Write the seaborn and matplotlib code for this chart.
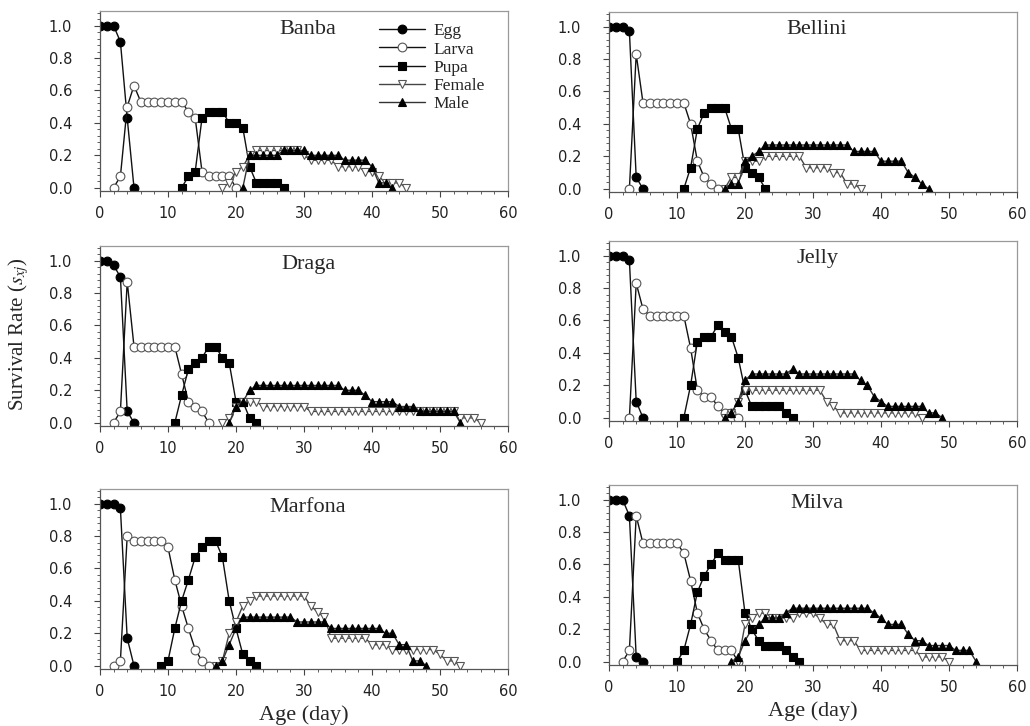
import matplotlib
matplotlib.use("Agg")
import matplotlib.pyplot as plt
from matplotlib.ticker import MultipleLocator, FormatStrFormatter
from matplotlib.lines import Line2D
import numpy as np
import seaborn as sns

# each series: (first day, survival values for consecutive days)
stages = ["Egg", "Larva", "Pupa", "Female", "Male"]
cultivars = ["Banba", "Bellini", "Draga", "Jelly", "Marfona", "Milva"]

banba_egg = (0, [1.0, 1.0, 1.0, 0.90, 0.43, 0.0])
banba_larva = (2, [0.0, 0.07, 0.50, 0.63, 0.53, 0.53, 0.53, 0.53, 0.53, 0.53, 0.53,
                   0.47, 0.43, 0.10, 0.07, 0.07, 0.07, 0.07, 0.0])
banba_pupa = (12, [0.0, 0.07, 0.10, 0.43, 0.47, 0.47, 0.47, 0.40, 0.40, 0.37, 0.13,
                   0.03, 0.03, 0.03, 0.03, 0.0])
banba_female = (18, [0.0, 0.03, 0.10, 0.13, 0.20, 0.23, 0.23, 0.23, 0.23, 0.23, 0.23, 0.23,
                     0.20, 0.17, 0.17, 0.17, 0.17, 0.13, 0.13, 0.13, 0.13, 0.10, 0.10,
                     0.07, 0.03, 0.03, 0.03, 0.0])
banba_male = (21, [0.0, 0.20, 0.20, 0.20, 0.20, 0.20, 0.23, 0.23, 0.23, 0.23, 0.20, 0.20,
                   0.20, 0.20, 0.20, 0.17, 0.17, 0.17, 0.17, 0.13, 0.03, 0.03, 0.0])

bellini_egg = (0, [1.0, 1.0, 1.0, 0.97, 0.07, 0.0])
bellini_larva = (3, [0.0, 0.83, 0.53, 0.53, 0.53, 0.53, 0.53, 0.53, 0.53, 0.40, 0.17,
                     0.07, 0.03, 0.0])
bellini_pupa = (11, [0.0, 0.13, 0.37, 0.47, 0.50, 0.50, 0.50, 0.37, 0.37, 0.13, 0.10, 0.07, 0.0])
bellini_female = (17, [0.0, 0.07, 0.07, 0.17, 0.17, 0.17, 0.20, 0.20, 0.20, 0.20, 0.20, 0.20,
                       0.13, 0.13, 0.13, 0.13, 0.10, 0.10, 0.03, 0.03, 0.0])
bellini_male = (17, [0.0, 0.03, 0.03, 0.17, 0.20, 0.23, 0.27, 0.27, 0.27, 0.27, 0.27, 0.27,
                     0.27, 0.27, 0.27, 0.27, 0.27, 0.27, 0.27, 0.23, 0.23, 0.23, 0.23,
                     0.17, 0.17, 0.17, 0.17, 0.10, 0.07, 0.03, 0.0])

draga_egg = (0, [1.0, 1.0, 0.97, 0.90, 0.07, 0.0])
draga_larva = (2, [0.0, 0.07, 0.87, 0.47, 0.47, 0.47, 0.47, 0.47, 0.47, 0.47, 0.30, 0.13,
                   0.10, 0.07, 0.0])
draga_pupa = (11, [0.0, 0.17, 0.33, 0.37, 0.40, 0.47, 0.47, 0.40, 0.37, 0.13, 0.13, 0.03, 0.0])
draga_female = (18, [0.0, 0.03, 0.10, 0.13, 0.13, 0.13, 0.10, 0.10, 0.10, 0.10, 0.10, 0.10,
                     0.10, 0.07, 0.07, 0.07, 0.07, 0.07, 0.07, 0.07, 0.07, 0.07, 0.07, 0.07,
                     0.07, 0.07, 0.07, 0.07, 0.07, 0.07, 0.07, 0.07, 0.07, 0.07, 0.07,
                     0.03, 0.03, 0.03, 0.0])
draga_male = (19, [0.0, 0.10, 0.13, 0.20, 0.23, 0.23, 0.23, 0.23, 0.23, 0.23, 0.23, 0.23,
                   0.23, 0.23, 0.23, 0.23, 0.23, 0.20, 0.20, 0.20, 0.17, 0.13, 0.13, 0.13,
                   0.13, 0.10, 0.10, 0.10, 0.07, 0.07, 0.07, 0.07, 0.07, 0.07, 0.0])

jelly_egg = (0, [1.0, 1.0, 1.0, 0.97, 0.10, 0.0])
jelly_larva = (3, [0.0, 0.83, 0.67, 0.63, 0.63, 0.63, 0.63, 0.63, 0.63, 0.43, 0.17, 0.13,
                   0.13, 0.07, 0.03, 0.03, 0.0])
jelly_pupa = (11, [0.0, 0.20, 0.47, 0.50, 0.50, 0.57, 0.53, 0.50, 0.37, 0.17, 0.07, 0.07,
                   0.07, 0.07, 0.07, 0.03, 0.0])
jelly_female = (17, [0.0, 0.03, 0.10, 0.17, 0.17, 0.17, 0.17, 0.17, 0.17, 0.17, 0.17, 0.17,
                     0.17, 0.17, 0.17, 0.10, 0.07, 0.03, 0.03, 0.03, 0.03, 0.03, 0.03,
                     0.03, 0.03, 0.03, 0.03, 0.03, 0.03, 0.0])
jelly_male = (17, [0.0, 0.03, 0.10, 0.23, 0.27, 0.27, 0.27, 0.27, 0.27, 0.27, 0.30, 0.27,
                   0.27, 0.27, 0.27, 0.27, 0.27, 0.27, 0.27, 0.27, 0.23, 0.20, 0.13, 0.10,
                   0.07, 0.07, 0.07, 0.07, 0.07, 0.07, 0.03, 0.03, 0.0])

marfona_egg = (0, [1.0, 1.0, 1.0, 0.97, 0.17, 0.0])
marfona_larva = (2, [0.0, 0.03, 0.80, 0.77, 0.77, 0.77, 0.77, 0.77, 0.73, 0.53, 0.37, 0.23,
                     0.10, 0.03, 0.0])
marfona_pupa = (9, [0.0, 0.03, 0.23, 0.40, 0.53, 0.67, 0.73, 0.77, 0.77, 0.67, 0.40, 0.23,
                    0.07, 0.03, 0.0])
marfona_female = (17, [0.0, 0.03, 0.20, 0.27, 0.37, 0.40, 0.43, 0.43, 0.43, 0.43, 0.43, 0.43,
                       0.43, 0.43, 0.37, 0.33, 0.30, 0.17, 0.17, 0.17, 0.17, 0.17, 0.17,
                       0.13, 0.13, 0.13, 0.10, 0.10, 0.10, 0.10, 0.10, 0.10, 0.10, 0.07,
                       0.03, 0.03, 0.0])
marfona_male = (17, [0.0, 0.03, 0.13, 0.23, 0.30, 0.30, 0.30, 0.30, 0.30, 0.30, 0.30, 0.30,
                     0.27, 0.27, 0.27, 0.27, 0.27, 0.23, 0.23, 0.23, 0.23, 0.23, 0.23, 0.23,
                     0.23, 0.20, 0.20, 0.13, 0.13, 0.03, 0.03, 0.0])

milva_egg = (0, [1.0, 1.0, 1.0, 0.90, 0.03, 0.0])
milva_larva = (2, [0.0, 0.07, 0.90, 0.73, 0.73, 0.73, 0.73, 0.73, 0.73, 0.67, 0.50, 0.30,
                   0.20, 0.13, 0.07, 0.07, 0.07, 0.0])
milva_pupa = (10, [0.0, 0.07, 0.23, 0.43, 0.53, 0.60, 0.67, 0.63, 0.63, 0.63, 0.30, 0.20,
                   0.13, 0.10, 0.10, 0.10, 0.07, 0.03, 0.0])
milva_female = (19, [0.0, 0.23, 0.27, 0.30, 0.30, 0.27, 0.27, 0.27, 0.27, 0.30, 0.30, 0.30,
                     0.27, 0.23, 0.23, 0.13, 0.13, 0.13, 0.07, 0.07, 0.07, 0.07, 0.07, 0.07,
                     0.07, 0.07, 0.07, 0.03, 0.03, 0.03, 0.03, 0.0])
milva_male = (18, [0.0, 0.03, 0.13, 0.20, 0.23, 0.27, 0.27, 0.27, 0.30, 0.33, 0.33, 0.33,
                   0.33, 0.33, 0.33, 0.33, 0.33, 0.33, 0.33, 0.33, 0.33, 0.30, 0.27, 0.23,
                   0.23, 0.23, 0.17, 0.13, 0.13, 0.10, 0.10, 0.10, 0.10, 0.07, 0.07, 0.07, 0.0])

panel_data = {
    "Banba": [banba_egg, banba_larva, banba_pupa, banba_female, banba_male],
    "Bellini": [bellini_egg, bellini_larva, bellini_pupa, bellini_female, bellini_male],
    "Draga": [draga_egg, draga_larva, draga_pupa, draga_female, draga_male],
    "Jelly": [jelly_egg, jelly_larva, jelly_pupa, jelly_female, jelly_male],
    "Marfona": [marfona_egg, marfona_larva, marfona_pupa, marfona_female, marfona_male],
    "Milva": [milva_egg, milva_larva, milva_pupa, milva_female, milva_male],
}

# marker style per stage: marker, face, edge, line colour
styles = {
    "Egg": ("o", "black", "black", "#111111"),
    "Larva": ("o", "white", "#555555", "#111111"),
    "Pupa": ("s", "black", "black", "#111111"),
    "Female": ("v", "white", "#555555", "#444444"),
    "Male": ("^", "black", "black", "#333333"),
}

sns.set_style("ticks")
plt.rcParams["font.family"] = ["DejaVu Sans"]
plt.rcParams["mathtext.fontset"] = "stix"
serif = ["Liberation Serif", "DejaVu Serif"]

fig = plt.figure(figsize=(10.30, 7.26), dpi=100)
W, H = 1030, 726
# pixel positions (left, bottom) of each panel's frame
lefts = [100, 609, 100, 609, 100, 609]
bottoms = [191, 192, 426, 421, 669, 665]
pw, ph = 408, 180

for i, name in enumerate(cultivars):
    ax = fig.add_axes([lefts[i] / W, 1 - bottoms[i] / H, pw / W, ph / H])
    for stage, (start, vals) in zip(stages, panel_data[name]):
        days = np.arange(start, start + len(vals))
        m, fc, ec, lc = styles[stage]
        sns.lineplot(x=days, y=vals, ax=ax, color=lc, linewidth=1.0,
                     marker=m, markersize=6.3 if m != "s" else 5.8,
                     markerfacecolor=fc, markeredgecolor=ec, markeredgewidth=0.8,
                     label=stage, legend=False)
    ax.set_xlim(0, 60)
    ax.set_ylim(-0.02, 1.09)
    ax.xaxis.set_major_locator(MultipleLocator(10))
    ax.xaxis.set_minor_locator(MultipleLocator(2))
    ax.yaxis.set_major_locator(MultipleLocator(0.2))
    ax.yaxis.set_minor_locator(MultipleLocator(0.04))
    ax.yaxis.set_major_formatter(FormatStrFormatter("%.1f"))
    ax.tick_params(which="major", direction="out", length=4, width=0.8,
                   labelsize=10.5, color="#444444", labelcolor="#222222")
    ax.tick_params(which="minor", direction="out", length=2.5, width=0.6, color="#444444")
    ax.tick_params(axis="y", which="major", pad=16)
    ax.tick_params(axis="x", which="major", pad=7)
    for side in ["top", "right"]:
        ax.spines[side].set_visible(True)
        ax.spines[side].set_color("#999999")
        ax.spines[side].set_linewidth(0.9)
    for side in ["left", "bottom"]:
        ax.spines[side].set_color("#555555")
        ax.spines[side].set_linewidth(0.9)
    ax.set_xlabel("")
    ax.set_ylabel("")
    ax.text(0.51, 0.9, name, transform=ax.transAxes, ha="center", va="center",
            fontsize=16, family=serif)
    if i >= 4:
        ax.set_xlabel("Age (day)", fontsize=16, family=serif, labelpad=4)
    if name == "Banba":
        handles = []
        for stage in stages:
            m, fc, ec, lc = styles[stage]
            handles.append(Line2D([], [], color=lc, linewidth=1.0, marker=m,
                                  markersize=6.3 if m != "s" else 5.8,
                                  markerfacecolor=fc, markeredgecolor=ec,
                                  markeredgewidth=0.8))
        ax.legend(handles, stages, loc="upper left", bbox_to_anchor=(0.655, 1.0),
                  frameon=False, handlelength=2.6, labelspacing=0.12,
                  handletextpad=0.5, borderpad=0.2,
                  prop={"family": serif, "size": 12.5})

fig.text(0.018, 0.54, r"Survival Rate ($s_{xj}$)", rotation=90, ha="center",
         va="center", fontsize=15, family=serif)

fig.savefig("out.png", dpi=100)
